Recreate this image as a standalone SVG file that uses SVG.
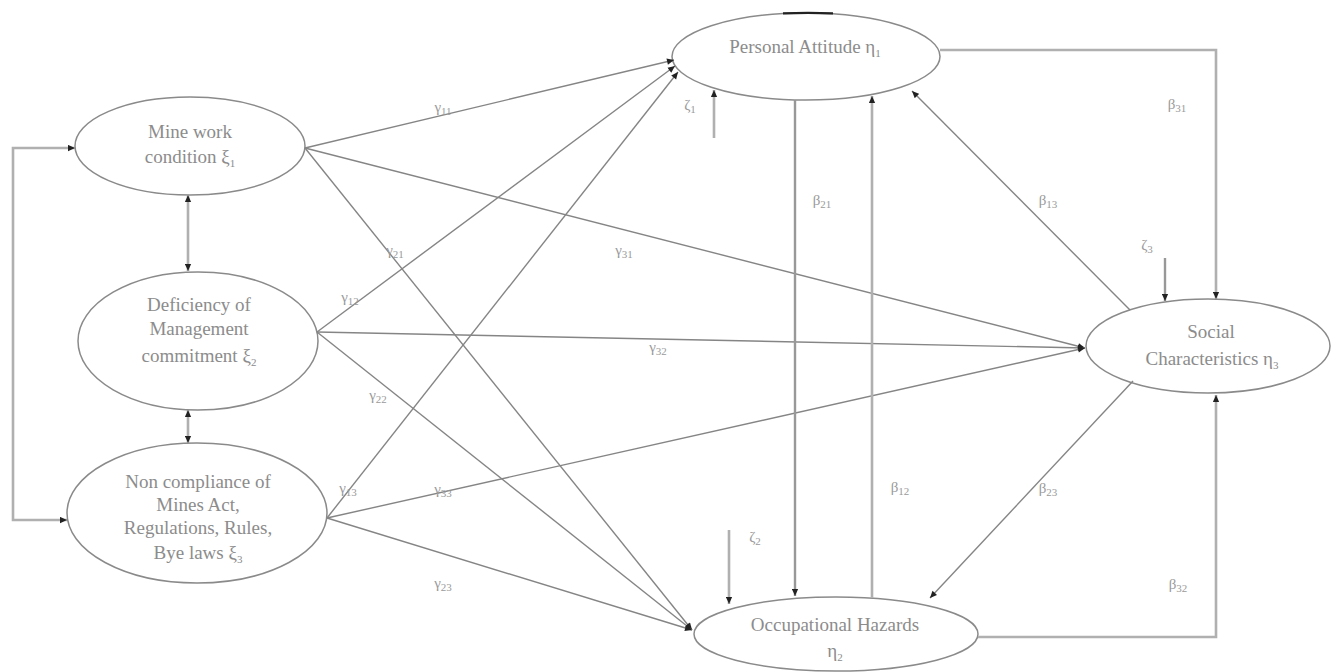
<svg xmlns="http://www.w3.org/2000/svg" width="1334" height="672" viewBox="0 0 1334 672">
<defs>
<marker id="ah" viewBox="0 0 10 10" refX="10" refY="5" markerWidth="8" markerHeight="7" markerUnits="userSpaceOnUse" orient="auto-start-reverse">
<path d="M0,0.5 L10,5 L0,9.5 z" fill="#222"/>
</marker>
<style>
.node ellipse{fill:#fff;stroke:#8a8a8a;stroke-width:1.5}
.t{font-family:"Liberation Serif","Times New Roman",serif;font-size:19px;fill:#8c8c8c;text-anchor:middle}
.lb{font-family:"Liberation Serif","Times New Roman",serif;font-size:15px;fill:#9a9a9a;text-anchor:middle}
.s{font-size:11px}
.d{fill:none;stroke:#858585;stroke-width:1.4}
.v{fill:none;stroke:#b0b0b0;stroke-width:2.6}
.vd{fill:none;stroke:#989898;stroke-width:2.4}
</style>
</defs>
<rect width="1334" height="672" fill="#fff"/>

<g id="xi1" class="node">
<ellipse cx="190" cy="146" rx="115" ry="49"/>
<text class="t" x="190" y="138">Mine work</text>
<text class="t" x="190" y="163">condition ξ<tspan class="s" dy="4">1</tspan></text>
</g>
<g id="xi2" class="node">
<ellipse cx="198" cy="341" rx="120" ry="69"/>
<text class="t" x="199" y="311">Deficiency of</text>
<text class="t" x="199" y="335">Management</text>
<text class="t" x="199" y="362">commitment ξ<tspan class="s" dy="4">2</tspan></text>
</g>
<g id="xi3" class="node">
<ellipse cx="197" cy="513" rx="130" ry="70"/>
<text class="t" x="198" y="488">Non compliance of</text>
<text class="t" x="198" y="511">Mines Act,</text>
<text class="t" x="198" y="534">Regulations, Rules,</text>
<text class="t" x="198" y="559">Bye laws ξ<tspan class="s" dy="4">3</tspan></text>
</g>
<g id="eta1" class="node">
<ellipse cx="806" cy="56.5" rx="134" ry="43.5"/>
<path d="M783,13.3 Q808,12.6 833,13.3" fill="none" stroke="#222" stroke-width="2.2"/>
<text class="t" x="805" y="53">Personal Attitude η<tspan class="s" dy="4">1</tspan></text>
</g>
<g id="eta2" class="node">
<ellipse cx="836" cy="634" rx="142" ry="37"/>
<text class="t" x="835" y="631">Occupational Hazards</text>
<text class="t" x="835" y="657">η<tspan class="s" dy="4">2</tspan></text>
</g>
<g id="eta3" class="node">
<ellipse cx="1208" cy="346" rx="122" ry="47"/>
<text class="t" x="1211" y="338">Social</text>
<text class="t" x="1212" y="365">Characteristics η<tspan class="s" dy="4">3</tspan></text>
</g>

<g id="connectors">
<path class="v" d="M75,148 H13 V520 H67" marker-start="url(#ah)" marker-end="url(#ah)"/>
<path class="v" d="M188,195 V271" marker-start="url(#ah)" marker-end="url(#ah)"/>
<path class="v" d="M188,410 V443" marker-start="url(#ah)" marker-end="url(#ah)"/>

<path class="d" d="M305,148 L674,60" marker-end="url(#ah)"/>
<path class="d" d="M305,148 L1085,348" marker-end="url(#ah)"/>
<path class="d" d="M305,148 L692,630" marker-end="url(#ah)"/>
<path class="d" d="M317,332 L675,66" marker-end="url(#ah)"/>
<path class="d" d="M317,332 L1085,348" marker-end="url(#ah)"/>
<path class="d" d="M317,332 L692,630" marker-end="url(#ah)"/>
<path class="d" d="M327,518 L678,72" marker-end="url(#ah)"/>
<path class="d" d="M327,518 L1085,348" marker-end="url(#ah)"/>
<path class="d" d="M327,518 L692,630" marker-end="url(#ah)"/>

<path class="vd" d="M795,100 V596" marker-end="url(#ah)"/>
<path class="v" d="M872,598 V96" marker-end="url(#ah)"/>
<path class="v" d="M940,50 H1216 V299" marker-end="url(#ah)"/>
<path class="v" d="M978,637 H1216 V395" marker-end="url(#ah)"/>
<path class="d" d="M1130,310 L912,91" marker-end="url(#ah)"/>
<path class="d" d="M1133,381 L930,598" marker-end="url(#ah)"/>
<path class="v" d="M714,138 V90" marker-end="url(#ah)"/>
<path class="v" d="M729,530 V604" marker-end="url(#ah)"/>
<path class="vd" d="M1165,258 V301" marker-end="url(#ah)"/>

<text class="lb" x="443" y="112">γ<tspan class="s" dy="3">11</tspan></text>
<text class="lb" x="395" y="255">γ<tspan class="s" dy="3">21</tspan></text>
<text class="lb" x="624" y="255">γ<tspan class="s" dy="3">31</tspan></text>
<text class="lb" x="350" y="302">γ<tspan class="s" dy="3">12</tspan></text>
<text class="lb" x="658" y="352">γ<tspan class="s" dy="3">32</tspan></text>
<text class="lb" x="378" y="400">γ<tspan class="s" dy="3">22</tspan></text>
<text class="lb" x="348" y="493">γ<tspan class="s" dy="3">13</tspan></text>
<text class="lb" x="443" y="494">γ<tspan class="s" dy="3">33</tspan></text>
<text class="lb" x="443" y="588">γ<tspan class="s" dy="3">23</tspan></text>
<text class="lb" x="822" y="205">β<tspan class="s" dy="3">21</tspan></text>
<text class="lb" x="1048" y="205">β<tspan class="s" dy="3">13</tspan></text>
<text class="lb" x="1177" y="109">β<tspan class="s" dy="3">31</tspan></text>
<text class="lb" x="900" y="492">β<tspan class="s" dy="3">12</tspan></text>
<text class="lb" x="1048" y="493">β<tspan class="s" dy="3">23</tspan></text>
<text class="lb" x="1178" y="589">β<tspan class="s" dy="3">32</tspan></text>
<text class="lb" x="690" y="110">ζ<tspan class="s" dy="3">1</tspan></text>
<text class="lb" x="755" y="542">ζ<tspan class="s" dy="3">2</tspan></text>
<text class="lb" x="1147" y="250">ζ<tspan class="s" dy="3">3</tspan></text>
</g>
</svg>
